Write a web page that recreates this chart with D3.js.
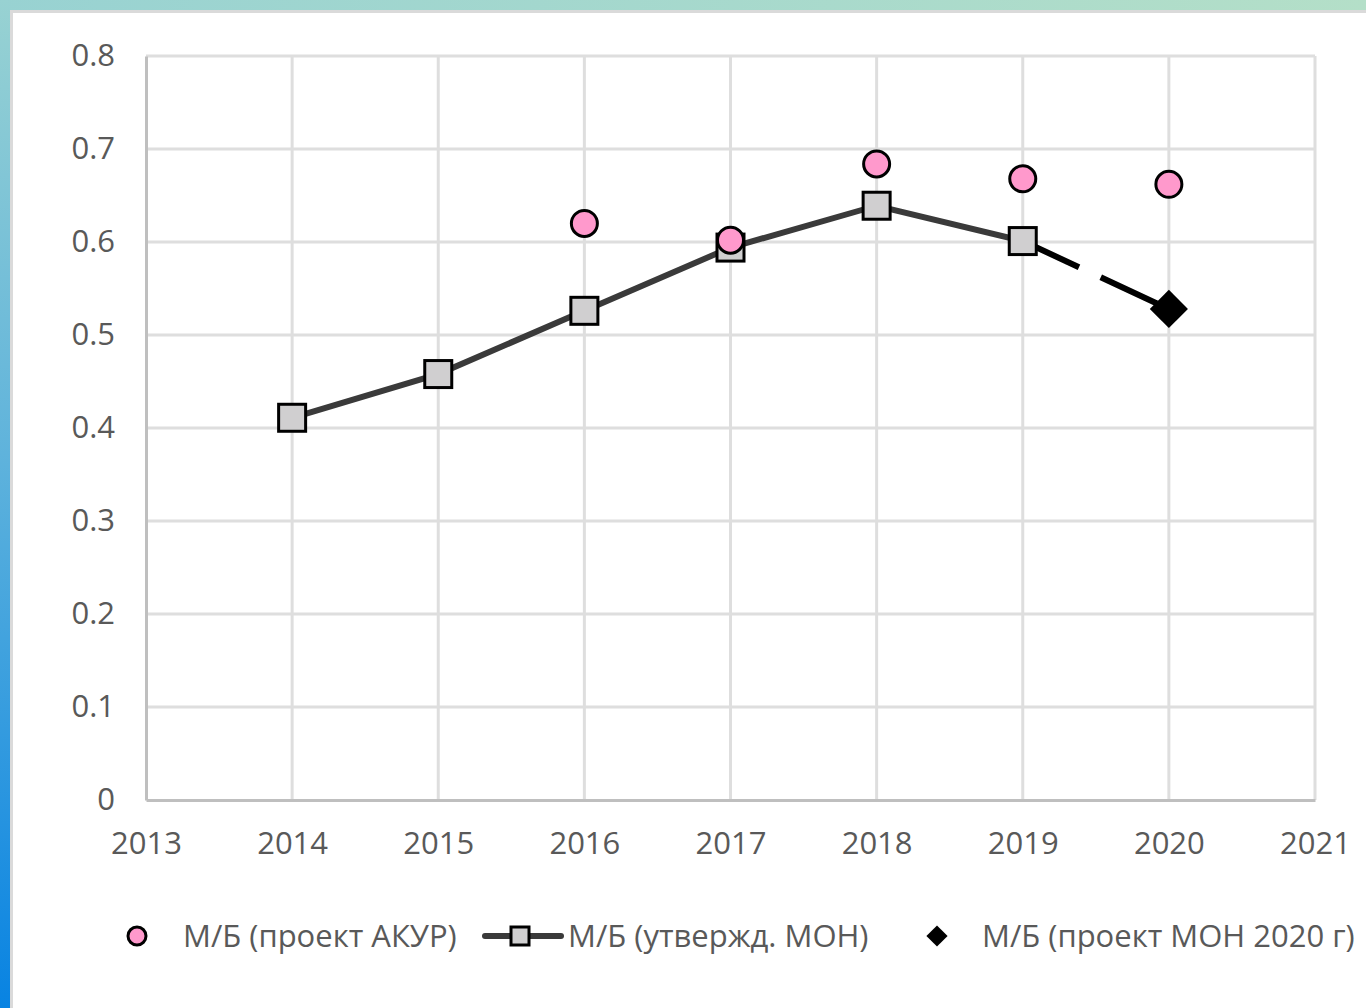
<!DOCTYPE html>
<html>
<head>
<meta charset="utf-8">
<script src="https://cdn.jsdelivr.net/npm/d3@7"></script>
<style>
  body { margin: 0; background: #fff; }
  svg { display: block; }
  text { font-family: "Open Sans", sans-serif; fill: #595959; }
</style>
</head>
<body>
<script>
// chart values
var years = [2014, 2015, 2016, 2017, 2018, 2019];
var monValues = [0.411, 0.458, 0.526, 0.594, 0.639, 0.601];
var akurYears = [2016, 2017, 2018, 2019, 2020];
var akurValues = [0.620, 0.602, 0.684, 0.668, 0.662];
var projYears = [2020];
var projValues = [0.528];
var yTicks = [0, 0.1, 0.2, 0.3, 0.4, 0.5, 0.6, 0.7, 0.8];
var xTicks = [2013, 2014, 2015, 2016, 2017, 2018, 2019, 2020, 2021];
var legendLabels = ["М/Б (проект АКУР)", "М/Б (утвержд. МОН)", "М/Б (проект МОН 2020 г)"];

var W = 1366, H = 1008;
var svg = d3.select("body").append("svg")
    .attr("width", W)
    .attr("height", H);

// frame gradients
var defs = svg.append("defs");
var gl = defs.append("linearGradient").attr("id", "leftBand")
    .attr("x1", 0).attr("y1", 0).attr("x2", 0).attr("y2", 1);
gl.append("stop").attr("offset", "0%").attr("stop-color", "#98d2d2");
gl.append("stop").attr("offset", "45%").attr("stop-color", "#5fb3dc");
gl.append("stop").attr("offset", "100%").attr("stop-color", "#0883e2");
var gt = defs.append("linearGradient").attr("id", "topBand")
    .attr("x1", 0).attr("y1", 0).attr("x2", 1).attr("y2", 0);
gt.append("stop").attr("offset", "0%").attr("stop-color", "#98d2d2");
gt.append("stop").attr("offset", "100%").attr("stop-color", "#b4dfc8");

svg.append("rect").attr("x", 0).attr("y", 0).attr("width", W).attr("height", 10).attr("fill", "url(#topBand)");
svg.append("rect").attr("x", 0).attr("y", 0).attr("width", 10).attr("height", H).attr("fill", "url(#leftBand)");
svg.append("rect").attr("x", 10).attr("y", 10).attr("width", W - 10).attr("height", 3).attr("fill", "#dadada");
svg.append("rect").attr("x", 10).attr("y", 10).attr("width", 3).attr("height", H - 10).attr("fill", "#dadada");

// scales
var x = d3.scaleLinear().domain([2013, 2021]).range([146, 1315]);
var y = d3.scaleLinear().domain([0, 0.8]).range([800, 56]);

// grid
svg.append("g")
  .selectAll("line.h")
  .data(yTicks.slice(1))
  .enter().append("line")
    .attr("x1", x(2013)).attr("x2", x(2021))
    .attr("y1", function(d) { return y(d); })
    .attr("y2", function(d) { return y(d); })
    .attr("stroke", "#dedede").attr("stroke-width", 3);

svg.append("g")
  .selectAll("line.v")
  .data(xTicks.slice(1))
  .enter().append("line")
    .attr("x1", function(d) { return x(d); })
    .attr("x2", function(d) { return x(d); })
    .attr("y1", y(0)).attr("y2", y(0.8))
    .attr("stroke", "#dedede").attr("stroke-width", 3);

// axes
var yAxis = d3.axisLeft(y).tickValues(yTicks).tickSize(0).tickPadding(31)
    .tickFormat(function(d) { return d === 0 ? "0" : d3.format(".1f")(d); });
var gy = svg.append("g").attr("transform", "translate(" + x(2013) + ",0)").call(yAxis);
gy.select(".domain").attr("stroke", "#bfbfbf").attr("stroke-width", 3);
gy.selectAll("text").style("font-size", "31px").attr("fill", "#595959").attr("dy", "0.32em");

var xAxis = d3.axisBottom(x).tickValues(xTicks).tickSize(0).tickPadding(32)
    .tickFormat(d3.format("d"));
var gx = svg.append("g").attr("transform", "translate(0," + y(0) + ")").call(xAxis);
gx.select(".domain").attr("stroke", "#bfbfbf").attr("stroke-width", 3);
gx.selectAll("text").style("font-size", "31px").attr("fill", "#595959");

// approved MON line
var monData = years.map(function(d, i) { return [d, monValues[i]]; });
var line = d3.line()
    .x(function(d) { return x(d[0]); })
    .y(function(d) { return y(d[1]); });

svg.append("path")
    .datum(monData)
    .attr("d", line)
    .attr("fill", "none")
    .attr("stroke", "#3a3a3a")
    .attr("stroke-width", 6);

// dashed projection 2019 -> 2020
var projData = [monData[monData.length - 1], [projYears[0], projValues[0]]];
svg.append("path")
    .datum(projData)
    .attr("d", line)
    .attr("fill", "none")
    .attr("stroke", "#000")
    .attr("stroke-width", 6)
    .attr("stroke-dasharray", "62,24");

var sq = 27;
svg.append("g").selectAll("rect")
    .data(monData)
  .enter().append("rect")
    .attr("x", function(d) { return x(d[0]) - sq / 2; })
    .attr("y", function(d) { return y(d[1]) - sq / 2; })
    .attr("width", sq).attr("height", sq)
    .attr("fill", "#d0cfd0").attr("stroke", "#000").attr("stroke-width", 3);

// AKUR circles
svg.append("g").selectAll("circle")
    .data(akurYears)
  .enter().append("circle")
    .attr("cx", function(d) { return x(d); })
    .attr("cy", function(d, i) { return y(akurValues[i]); })
    .attr("r", 13)
    .attr("fill", "#ff99cc").attr("stroke", "#000").attr("stroke-width", 3);

// projected diamond
var diamond = d3.symbol().type(d3.symbolSquare).size(27 * 27);
svg.append("g").selectAll("path")
    .data(projYears)
  .enter().append("path")
    .attr("d", diamond)
    .attr("transform", function(d, i) {
        return "translate(" + x(d) + "," + y(projValues[i]) + ") rotate(45)";
    })
    .attr("fill", "#000");

// legend
var ly = 936;
var leg = svg.append("g");
leg.append("circle").attr("cx", 137).attr("cy", ly).attr("r", 9)
    .attr("fill", "#ff99cc").attr("stroke", "#000").attr("stroke-width", 3);
leg.append("text").attr("x", 183).attr("y", ly).attr("dy", "0.35em")
    .style("font-size", "31px").text(legendLabels[0]);

leg.append("line").attr("x1", 485).attr("x2", 561).attr("y1", ly).attr("y2", ly)
    .attr("stroke", "#3a3a3a").attr("stroke-width", 6).attr("stroke-linecap", "round");
leg.append("rect").attr("x", 511).attr("y", ly - 9).attr("width", 18).attr("height", 18)
    .attr("fill", "#d0cfd0").attr("stroke", "#000").attr("stroke-width", 3);
leg.append("text").attr("x", 568).attr("y", ly).attr("dy", "0.35em")
    .style("font-size", "31px").text(legendLabels[1]);

leg.append("path").attr("d", d3.symbol().type(d3.symbolSquare).size(15 * 15))
    .attr("transform", "translate(937," + ly + ") rotate(45)").attr("fill", "#000");
leg.append("text").attr("x", 982).attr("y", ly).attr("dy", "0.35em")
    .style("font-size", "31px").text(legendLabels[2]);
</script>
</body>
</html>
